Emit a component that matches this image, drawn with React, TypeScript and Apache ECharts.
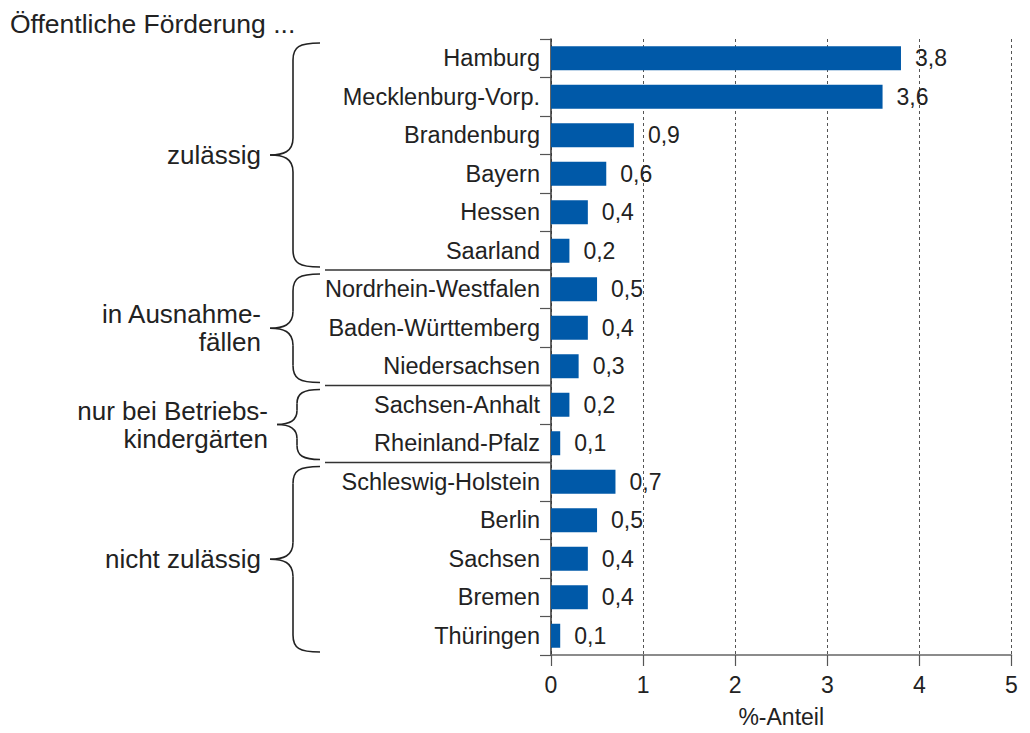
import React, { useEffect, useRef } from "react";
import * as echarts from "echarts";

const titleText = "Öffentliche Förderung ...";
const categories = [
  "Hamburg",
  "Mecklenburg-Vorp.",
  "Brandenburg",
  "Bayern",
  "Hessen",
  "Saarland",
  "Nordrhein-Westfalen",
  "Baden-Württemberg",
  "Niedersachsen",
  "Sachsen-Anhalt",
  "Rheinland-Pfalz",
  "Schleswig-Holstein",
  "Berlin",
  "Sachsen",
  "Bremen",
  "Thüringen",
];
const values = [3.8, 3.6, 0.9, 0.6, 0.4, 0.2, 0.5, 0.4, 0.3, 0.2, 0.1, 0.7, 0.5, 0.4, 0.4, 0.1];
const groupLabels = ["zulässig", "in Ausnahme-\nfällen", "nur bei Betriebs-\nkindergärten", "nicht zulässig"];
const groupSizes = [6, 3, 2, 5];
const xAxisName = "%-Anteil";
const xMin = 0;
const xMax = 5;
const xInterval = 1;

const FONT = '"Liberation Sans", Arial, Helvetica, sans-serif';
const TEXT = "#222";
const BAR = "#0059A8";

export default function App() {
  const ref = useRef<HTMLDivElement>(null);
  useEffect(() => {
    if (!ref.current) return;
    const chart = echarts.init(ref.current, null, { renderer: "svg" });
    chart.setOption({
      animation: false,
      backgroundColor: "#fff",
      title: {
        text: titleText,
        left: 10,
        top: 10,
        padding: 0,
        textStyle: { fontFamily: FONT, fontSize: 26.5, fontWeight: "normal", color: TEXT },
      },
      grid: { left: 551, width: 460.5, top: 39, height: 622.5, containLabel: false },
      xAxis: {
        type: "value",
        min: xMin,
        max: xMax,
        interval: xInterval,
        name: xAxisName,
        nameLocation: "middle",
        nameGap: 50,
        nameTextStyle: { fontFamily: FONT, fontSize: 23, color: TEXT },
        axisLine: { show: true, lineStyle: { color: "#666", width: 1.5 } },
        axisTick: { show: true, length: 11, lineStyle: { color: "#555", width: 1.2 } },
        axisLabel: { margin: 18, fontFamily: FONT, fontSize: 23, color: TEXT },
        splitLine: { show: true, lineStyle: { color: "#555", width: 1, type: [3, 3] } },
      },
      yAxis: {
        type: "category",
        data: categories,
        inverse: true,
        axisLine: { show: true, lineStyle: { color: "#333", width: 1.5 } },
        axisTick: { show: true, length: 11, alignWithLabel: false, lineStyle: { color: "#555", width: 1.2 } },
        axisLabel: { margin: 11, fontFamily: FONT, fontSize: 23.5, color: TEXT },
        splitLine: { show: false },
      },
      series: [
        {
          type: "bar",
          data: values,
          barWidth: 24,
          itemStyle: { color: BAR },
          label: {
            show: true,
            position: "right",
            distance: 14,
            fontFamily: FONT,
            fontSize: 23,
            color: TEXT,
            formatter: (p: any) => String(p.value).replace(".", ","),
          },
        },
      ],
    });

    const yPix = (i: number) => chart.convertToPixel({ yAxisIndex: 0 }, categories[i]) as number;
    const band = yPix(1) - yPix(0);
    const axisX = chart.convertToPixel({ xAxisIndex: 0 }, 0) as number;
    const graphics: any[] = [];
    const stroke = { stroke: "#222", lineWidth: 1.6, fill: "none" };
    let start = 0;
    groupSizes.forEach((n, gi) => {
      const end = start + n - 1;
      const top = yPix(start) - band / 2;
      const bottom = yPix(end) + band / 2;
      if (gi > 0) {
        graphics.push({
          type: "line",
          shape: { x1: 325, y1: top, x2: axisX, y2: top },
          style: { stroke: "#333", lineWidth: 1.5 },
        });
      }
      const yt = top + 4;
      const yb = bottom - 3;
      const yc = (yt + yb) / 2;
      const short = n <= 2;
      const xr = 320;
      const xm = short ? 297 : 293;
      const xt = short ? 277 : 270;
      const r = Math.min(17, (yb - yt) / 5);
      graphics.push(
        { type: "bezierCurve", shape: { x1: xr, y1: yt, cpx1: xm + 6, cpy1: yt, cpx2: xm, cpy2: yt + 4, x2: xm, y2: yt + r }, style: stroke },
        { type: "line", shape: { x1: xm, y1: yt + r, x2: xm, y2: yc - r }, style: stroke },
        { type: "bezierCurve", shape: { x1: xm, y1: yc - r, cpx1: xm, cpy1: yc - 3, cpx2: xm - 10, cpy2: yc, x2: xt, y2: yc }, style: stroke },
        { type: "bezierCurve", shape: { x1: xt, y1: yc, cpx1: xm - 10, cpy1: yc, cpx2: xm, cpy2: yc + 3, x2: xm, y2: yc + r }, style: stroke },
        { type: "line", shape: { x1: xm, y1: yc + r, x2: xm, y2: yb - r }, style: stroke },
        { type: "bezierCurve", shape: { x1: xm, y1: yb - r, cpx1: xm, cpy1: yb - 4, cpx2: xm + 6, cpy2: yb, x2: xr, y2: yb }, style: stroke },
        {
          type: "text",
          x: xt - 9,
          y: yc,
          style: {
            text: groupLabels[gi],
            align: "right",
            verticalAlign: "middle",
            font: `26px ${FONT}`,
            lineHeight: 28,
            fill: TEXT,
          },
        }
      );
      start += n;
    });
    chart.setOption({ graphic: graphics });
    return () => chart.dispose();
  }, []);
  return <div ref={ref} style={{ position: "absolute", left: 0, top: 0, width: 1030, height: 733 }} />;
}
